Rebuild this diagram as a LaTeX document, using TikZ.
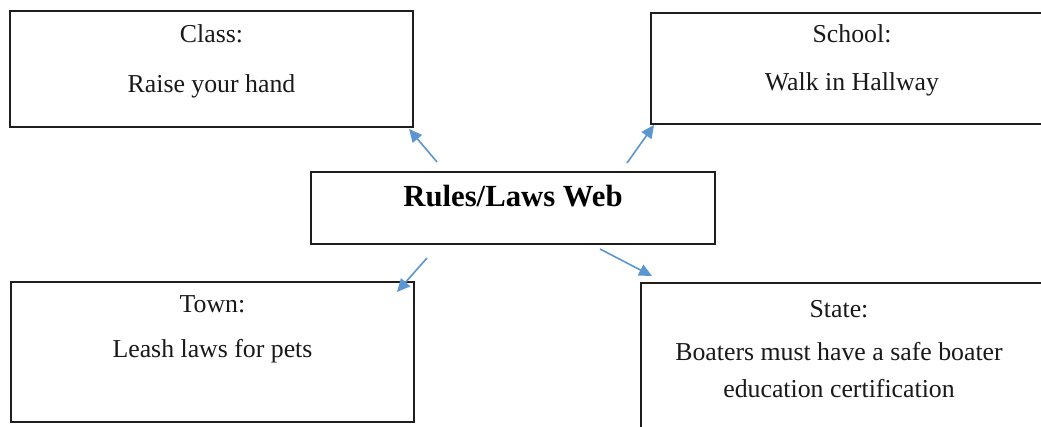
\documentclass[tikz,border=0pt]{standalone}
\usepackage{fontspec}
\setmainfont{Liberation Serif}
\usetikzlibrary{arrows.meta}
\definecolor{arrowblue}{RGB}{91,150,208}
\definecolor{boxline}{RGB}{30,30,30}
\begin{document}
\begin{tikzpicture}[x=1pt,y=-1pt,
  box/.style={draw=boxline, line width=1.4pt, inner sep=0pt},
  txt/.style={anchor=base, inner sep=0pt, font=\fontsize{25.8}{30}\selectfont, text=black!90},
  title/.style={anchor=base, inner sep=0pt, font=\fontsize{30.7}{36}\selectfont\bfseries, text=black},
  link/.style={draw=arrowblue, line width=1.6pt, -{Triangle[length=13pt,width=12pt]}}]
\useasboundingbox (0,0) rectangle (1041,427);
\clip (0,0) rectangle (1041,427);
\fill[white] (0,0) rectangle (1041,427);

% boxes
\node[box, minimum width=403pt, minimum height=116pt] (class)  at (211.5,69)  {};
\node[box, minimum width=402pt, minimum height=111pt] (school) at (852,68.5)  {};
\node[box, minimum width=404pt, minimum height=72pt]  (web)    at (513,208)   {};
\node[box, minimum width=403pt, minimum height=140pt] (town)   at (212.5,352) {};
\node[box, minimum width=404pt, minimum height=157pt] (state)  at (843,361.5) {};

% texts
\node[txt] (classhead) at (211.5,43) {Class:};
\node[txt] (classrule) at (211.5,93) {Raise your hand};
\node[txt] (schoolhead) at (852,43) {School:};
\node[txt] (schoolrule) at (852,91) {Walk in Hallway};
\node[title] (webtitle) at (513,207) {Rules/Laws Web};
\node[txt] (townhead) at (212.5,313) {Town:};
\node[txt] (townrule) at (212.5,358) {Leash laws for pets};
\node[txt] (statehead) at (839,318) {State:};
\node[txt] (staterule) at (839,360) {Boaters must have a safe boater};
\node[txt] (staterule2) at (839,397) {education certification};

% arrow ends
\coordinate (aclass)  at (437,162);
\coordinate (tclass)  at (409,129);
\coordinate (aschool) at (627,163);
\coordinate (tschool) at (654,125);
\coordinate (atown)   at (427,258);
\coordinate (ttown)   at (397,292);
\coordinate (astate)  at (600,249);
\coordinate (tstate)  at (652,276);

\draw[link] (aclass) -- (tclass);
\draw[link] (aschool) -- (tschool);
\draw[link] (atown) -- (ttown);
\draw[link] (astate) -- (tstate);
\end{tikzpicture}
\end{document}
